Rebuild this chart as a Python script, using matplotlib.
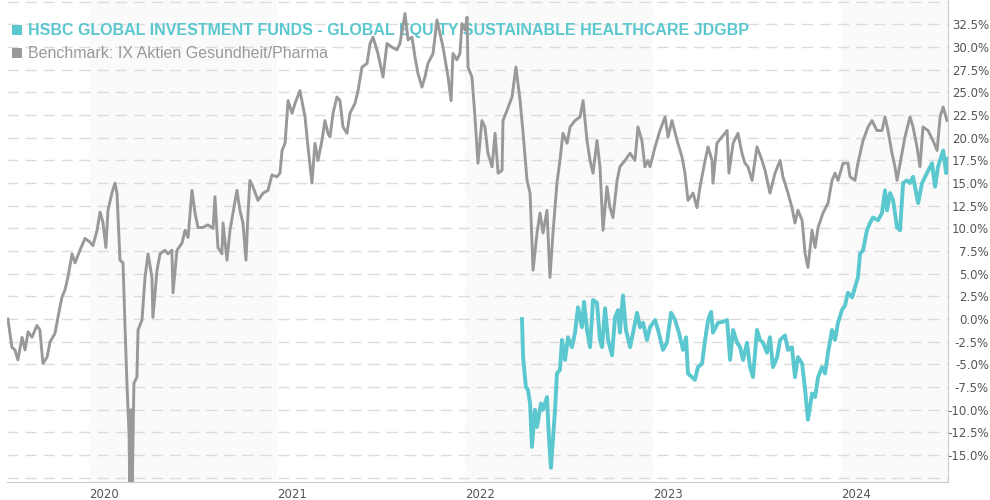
import matplotlib.pyplot as plt
from matplotlib.patches import Rectangle

# data (x in decimal years, y in % performance)
bench_t = [2019.569, 2019.590, 2019.606, 2019.622, 2019.644, 2019.660, 2019.676, 2019.697, 2019.723, 2019.739,
           2019.755, 2019.777, 2019.793, 2019.819, 2019.835, 2019.856, 2019.872, 2019.888, 2019.910, 2019.926,
           2019.952, 2019.979, 2020.005, 2020.021, 2020.043, 2020.059, 2020.074, 2020.090, 2020.101, 2020.122,
           2020.138, 2020.149, 2020.165, 2020.181, 2020.191, 2020.202, 2020.213, 2020.218, 2020.223, 2020.229,
           2020.239, 2020.255, 2020.261, 2020.282, 2020.298, 2020.314, 2020.335, 2020.340, 2020.362, 2020.378,
           2020.404, 2020.420, 2020.441, 2020.447, 2020.468, 2020.495, 2020.511, 2020.527, 2020.548, 2020.564,
           2020.580, 2020.606, 2020.633, 2020.660, 2020.670, 2020.686, 2020.707, 2020.713, 2020.734, 2020.750,
           2020.766, 2020.787, 2020.803, 2020.819, 2020.835, 2020.846, 2020.856, 2020.872, 2020.899, 2020.926,
           2020.952, 2020.973, 2021.000, 2021.016, 2021.027, 2021.043, 2021.059, 2021.080, 2021.096, 2021.122,
           2021.149, 2021.165, 2021.186, 2021.202, 2021.218, 2021.239, 2021.255, 2021.271, 2021.282, 2021.298,
           2021.319, 2021.335, 2021.351, 2021.372, 2021.388, 2021.415, 2021.431, 2021.452, 2021.479, 2021.495,
           2021.511, 2021.537, 2021.564, 2021.585, 2021.612, 2021.638, 2021.654, 2021.681, 2021.697, 2021.718,
           2021.734, 2021.750, 2021.771, 2021.787, 2021.803, 2021.830, 2021.851, 2021.867, 2021.883, 2021.910,
           2021.926, 2021.936, 2021.957, 2021.973, 2021.984, 2022.000, 2022.011, 2022.016, 2022.037, 2022.053,
           2022.069, 2022.090, 2022.106, 2022.122, 2022.144, 2022.160, 2022.176, 2022.197, 2022.202, 2022.223,
           2022.250, 2022.271, 2022.293, 2022.309, 2022.330, 2022.346, 2022.362, 2022.383, 2022.399, 2022.415,
           2022.436, 2022.452, 2022.468, 2022.489, 2022.505, 2022.521, 2022.543, 2022.559, 2022.585, 2022.612,
           2022.628, 2022.649, 2022.665, 2022.681, 2022.702, 2022.718, 2022.734, 2022.755, 2022.771, 2022.787,
           2022.809, 2022.824, 2022.851, 2022.878, 2022.904, 2022.920, 2022.941, 2022.957, 2022.973, 2022.984,
           2023.011, 2023.037, 2023.064, 2023.080, 2023.101, 2023.128, 2023.154, 2023.170, 2023.186, 2023.213,
           2023.234, 2023.250, 2023.277, 2023.293, 2023.314, 2023.319, 2023.340, 2023.367, 2023.394, 2023.404,
           2023.426, 2023.452, 2023.473, 2023.489, 2023.505, 2023.527, 2023.553, 2023.580, 2023.596, 2023.622,
           2023.649, 2023.676, 2023.691, 2023.718, 2023.739, 2023.755, 2023.771, 2023.793, 2023.809, 2023.824,
           2023.846, 2023.862, 2023.878, 2023.904, 2023.931, 2023.952, 2023.968, 2023.984, 2024.011, 2024.037,
           2024.048, 2024.074, 2024.090, 2024.117, 2024.144, 2024.165, 2024.191, 2024.218, 2024.234, 2024.250,
           2024.271, 2024.287, 2024.298, 2024.324, 2024.340, 2024.367, 2024.383, 2024.404, 2024.420, 2024.436,
           2024.463, 2024.489, 2024.511, 2024.527, 2024.543, 2024.564]
bench_v = [0.0, -3.1, -3.4, -4.5, -2.0, -3.4, -1.4, -2.0, -0.7, -1.2,
           -4.9, -4.2, -2.5, -1.6, 0.2, 2.4, 3.2, 4.6, 7.2, 6.2,
           7.6, 8.9, 8.5, 8.1, 9.8, 11.8, 10.7, 7.9, 12.0, 13.9,
           15.0, 13.9, 6.5, 6.2, -0.4, -7.1, -12.6, -20.0, -10.0, -20.0,
           -7.1, -6.4, -1.2, -0.1, 4.6, 7.2, 4.6, 0.2, 5.4, 7.2,
           7.6, 7.2, 7.6, 2.9, 7.6, 8.4, 9.8, 9.0, 14.2, 11.7,
           10.1, 10.1, 10.4, 10.0, 13.5, 7.9, 7.2, 10.6, 6.5, 9.8,
           11.7, 14.2, 12.0, 10.6, 6.5, 11.7, 15.3, 14.6, 13.1, 13.9,
           14.2, 15.9, 15.7, 16.1, 18.6, 19.4, 24.1, 22.7, 23.8, 25.2,
           22.3, 19.0, 15.0, 19.4, 17.5, 19.7, 21.9, 20.5, 20.1, 22.7,
           24.5, 24.1, 21.2, 20.5, 22.7, 23.8, 25.2, 27.8, 28.2, 30.4,
           31.1, 29.3, 26.7, 30.4, 30.0, 29.7, 30.4, 33.7, 30.8, 31.1,
           28.9, 27.1, 25.6, 26.7, 28.2, 29.3, 33.0, 31.5, 30.0, 26.7,
           24.1, 29.3, 28.6, 29.3, 32.6, 31.9, 33.3, 27.8, 26.7, 22.3,
           17.2, 21.9, 21.2, 18.3, 16.8, 20.5, 16.1, 16.4, 21.9, 23.0,
           24.5, 27.8, 24.1, 20.5, 15.3, 13.9, 5.4, 9.5, 11.7, 9.5,
           12.0, 4.6, 9.5, 15.0, 17.5, 20.5, 19.4, 21.2, 21.9, 22.3,
           24.1, 19.7, 17.5, 16.1, 19.7, 16.8, 9.8, 14.6, 12.3, 11.2,
           15.3, 16.8, 17.5, 18.3, 17.5, 21.2, 19.7, 16.8, 17.5, 16.8,
           19.0, 20.8, 22.3, 20.1, 21.9, 19.7, 17.9, 16.1, 13.1, 13.9,
           12.3, 14.6, 17.5, 19.0, 17.5, 15.0, 19.4, 20.1, 20.8, 16.1,
           19.4, 20.5, 18.3, 17.2, 16.8, 15.3, 19.0, 17.5, 16.4, 13.9,
           16.1, 17.5, 15.7, 13.9, 12.3, 10.6, 12.0, 10.9, 7.2, 5.7,
           9.8, 7.9, 10.1, 11.7, 12.8, 15.3, 16.1, 15.3, 17.2, 17.2,
           15.7, 15.3, 17.2, 19.7, 21.2, 21.9, 20.8, 20.8, 22.3, 20.8,
           18.3, 16.8, 15.3, 18.3, 20.1, 22.3, 21.2, 19.0, 16.8, 21.2,
           20.8, 19.7, 18.6, 22.3, 23.4, 21.9]

fund_t = [2022.303, 2022.309, 2022.324, 2022.335, 2022.346, 2022.356, 2022.372, 2022.383, 2022.404, 2022.415,
          2022.436, 2022.447, 2022.457, 2022.479, 2022.489, 2022.505, 2022.516, 2022.532, 2022.548, 2022.569,
          2022.585, 2022.601, 2022.622, 2022.633, 2022.649, 2022.665, 2022.681, 2022.702, 2022.718, 2022.729,
          2022.745, 2022.761, 2022.782, 2022.798, 2022.814, 2022.824, 2022.840, 2022.856, 2022.878, 2022.894,
          2022.915, 2022.931, 2022.947, 2022.968, 2022.984, 2023.011, 2023.027, 2023.053, 2023.074, 2023.096,
          2023.117, 2023.138, 2023.160, 2023.176, 2023.186, 2023.207, 2023.223, 2023.239, 2023.261, 2023.277,
          2023.293, 2023.309, 2023.319, 2023.346, 2023.372, 2023.394, 2023.410, 2023.426, 2023.447, 2023.463,
          2023.479, 2023.500, 2023.516, 2023.532, 2023.553, 2023.569, 2023.585, 2023.606, 2023.622, 2023.638,
          2023.660, 2023.676, 2023.702, 2023.718, 2023.739, 2023.755, 2023.771, 2023.793, 2023.809, 2023.824,
          2023.846, 2023.862, 2023.878, 2023.899, 2023.915, 2023.931, 2023.952, 2023.968, 2023.984, 2024.005,
          2024.021, 2024.037, 2024.059, 2024.074, 2024.090, 2024.101, 2024.117, 2024.138, 2024.154, 2024.170,
          2024.197, 2024.218, 2024.234, 2024.245, 2024.261, 2024.277, 2024.298, 2024.314, 2024.330, 2024.351,
          2024.367, 2024.383, 2024.410, 2024.431, 2024.457, 2024.484, 2024.500, 2024.516, 2024.543, 2024.559,
          2024.569]
fund_v = [0.0, -4.2, -7.5, -7.8, -9.3, -14.1, -10.0, -11.9, -9.3, -10.0,
          -8.6, -13.3, -16.4, -10.0, -6.0, -5.6, -2.3, -4.5, -2.0, -3.1,
          -1.5, 1.3, -0.9, 1.9, -1.2, -3.1, 2.1, 1.8, -2.3, -3.1,
          1.2, -2.3, -4.0, 0.2, 1.0, -1.5, 2.6, -1.2, -3.1, -1.5,
          0.7, -0.9, -0.4, -2.3, -0.9, -0.1, -1.2, -3.4, -2.6, 0.7,
          -0.1, -1.5, -3.4, -2.0, -6.0, -6.4, -6.7, -5.3, -4.9, -2.3,
          -0.1, 0.8, -1.5, -0.4, -0.3, -0.1, -4.5, -1.2, -2.6, -3.1,
          -4.5, -2.6, -5.3, -6.4, -1.2, -2.3, -2.6, -3.7, -2.0, -5.3,
          -4.2, -2.3, -1.8, -3.4, -3.1, -6.4, -4.2, -4.9, -7.8, -11.1,
          -8.2, -8.6, -6.4, -5.3, -6.0, -3.7, -1.2, -2.3, -0.4, 1.0,
          1.5, 2.9, 2.4, 3.5, 4.6, 7.2, 7.6, 9.8, 10.6, 11.2,
          10.9, 11.7, 14.2, 12.0, 13.9, 13.1, 10.1, 9.8, 15.0, 15.3,
          15.0, 15.7, 12.8, 15.0, 16.1, 17.2, 14.6, 16.8, 18.6, 16.1,
          17.7]

years = [2020, 2021, 2022, 2023, 2024]
shaded_years = [2020, 2022, 2024]
y_ticks = [-15.0, -12.5, -10.0, -7.5, -5.0, -2.5, 0.0, 2.5, 5.0, 7.5, 10.0, 12.5,
           15.0, 17.5, 20.0, 22.5, 25.0, 27.5, 30.0, 32.5]
grid_levels = [-17.5] + y_ticks + [35.0]

fund_name = "HSBC GLOBAL INVESTMENT FUNDS - GLOBAL EQUITY SUSTAINABLE HEALTHCARE JDGBP"
bench_name = "Benchmark: IX Aktien Gesundheit/Pharma"

teal = '#5bc7cf'
grey = '#999999'
x_start, x_end = 2019.564, 2024.569

fig = plt.figure(figsize=(9.9, 5), dpi=100)
fig.patch.set_facecolor('white')
ax = fig.add_axes([7 / 990, 18 / 500, 941 / 990, 482 / 500])

# alternating year bands
for yr in shaded_years:
    ax.axvspan(yr, min(yr + 1, x_end), color='#fafafa', lw=0, zorder=0)

# dashed horizontal grid
for lvl in grid_levels:
    ax.axhline(lvl, color='#dcdcdc', lw=1, ls=(0, (8, 5)), zorder=0.5)

ax.plot(bench_t, bench_v, color=grey, lw=2.1, solid_joinstyle='round', zorder=2)
ax.plot(fund_t, fund_v, color=teal, lw=2.8, solid_joinstyle='round', zorder=3)

ax.set_xlim(x_start, x_end)
ax.set_ylim(-17.97, 35.2)

for side in ['left', 'top']:
    ax.spines[side].set_visible(False)
ax.spines['bottom'].set_color('#cccccc')
ax.spines['right'].set_color('#cccccc')

ax.set_xticks(years)
ax.set_xticklabels([str(y) for y in years], fontsize=8.5, color='#555555', ha='left')
ax.tick_params(axis='x', length=0, pad=4)

ax.yaxis.tick_right()
ax.set_yticks(y_ticks)
ax.set_yticklabels([f"{v:.1f}%" for v in y_ticks], fontsize=8.5, color='#555555')
for lbl in ax.get_yticklabels():
    lbl.set_ha('right')
ax.tick_params(axis='y', length=0, pad=29.5)

# legend: square markers + text, beneath the lines as in the reference
for row, (name, col, weight) in enumerate([(fund_name, teal, 'bold'), (bench_name, grey, 'normal')]):
    yc = 1 - (30 + 23 * row) / 500
    ax.add_patch(Rectangle((12 / 990, yc - 5 / 500), 10 / 990, 10 / 500, transform=fig.transFigure,
                           facecolor=col, edgecolor='none', clip_on=False, zorder=1))
    ax.text(28 / 990, yc, name, transform=fig.transFigure, fontsize=11.5, fontweight=weight,
            color=col, va='center', family='Liberation Sans', zorder=1)

fig.savefig('out.png', dpi=100)
